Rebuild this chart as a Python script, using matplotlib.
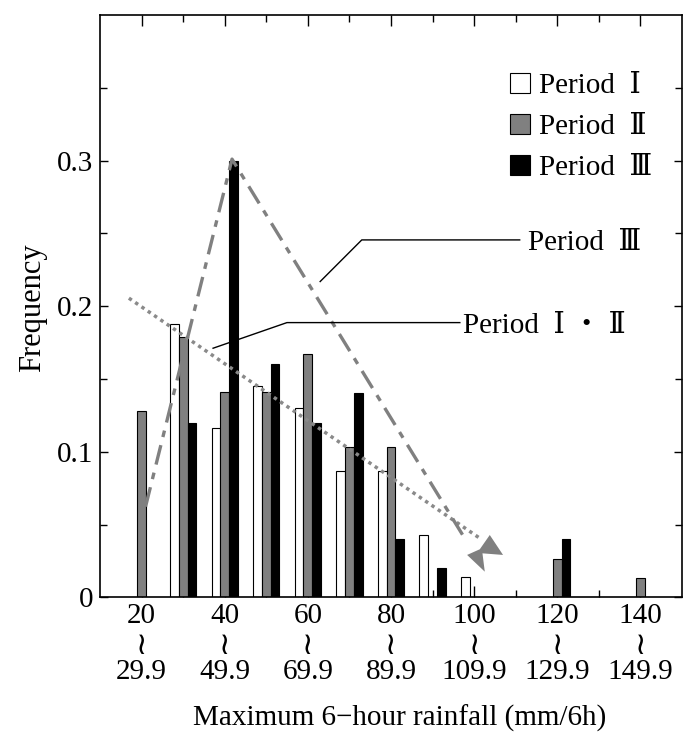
import matplotlib
matplotlib.use("Agg")
import matplotlib.pyplot as plt
import numpy as np
from matplotlib.patches import Patch, Polygon
from matplotlib.transforms import blended_transform_factory
from matplotlib.ticker import FixedLocator

plt.rcParams['font.family'] = ['Liberation Serif', 'DejaVu Serif', 'Noto Sans CJK JP']

# ---- data ----
bin_start = [20, 30, 40, 50, 60, 70, 80, 90, 100, 110, 120, 130, 140]
bin_upper = ["29.9", "49.9", "69.9", "89.9", "109.9", "129.9", "149.9"]
period1 = [0, 0.188, 0.116, 0.145, 0.130, 0.087, 0.087, 0.043, 0.014, 0, 0, 0, 0]
period2 = [0.128, 0.179, 0.141, 0.141, 0.167, 0.103, 0.103, 0, 0, 0, 0.026, 0, 0.013]
period3 = [0, 0.120, 0.300, 0.160, 0.120, 0.140, 0.040, 0.020, 0, 0, 0.040, 0, 0]
labels = ["Period  Ⅰ", "Period  Ⅱ", "Period  Ⅲ"]

# trend annotations
trend12_x = [16.95, 101.4]
trend12_y = [0.2055, 0.0405]
trend3_x = [20.96, 41.76, 97.2]
trend3_y = [0.0623, 0.301, 0.043]
arrow_x = [98.31, 101.36, 103.76, 106.95, 102.0, 102.56]
arrow_y = [0.0291, 0.0330, 0.0428, 0.0291, 0.0302, 0.0176]
lead3_x = [62.96, 72.97, 110.96]
lead3_y = [0.2169, 0.2455, 0.2455]
lead12_x = [37.2, 54.97, 96.56]
lead12_y = [0.1711, 0.1887, 0.1887]

FS = 21

fig = plt.figure(figsize=(6.83, 7.36), dpi=100)
ax = fig.add_axes([100 / 683, 1 - 597.3 / 736, 582 / 683, 582.3 / 736])

x = np.array(bin_start, dtype=float)
w = 2.1
GRAY = '#808080'
for off, vals, fc in [(-w, period1, 'white'), (0, period2, GRAY), (w, period3, 'black')]:
    v = np.array(vals)
    m = v > 0
    ax.bar(x[m] + off, v[m], w, color=fc, edgecolor='black', linewidth=0.8, zorder=2)

# trend lines
ax.plot(trend12_x, trend12_y, color='#8a8a8a', lw=2.5, linestyle=(0, (1, 1.2)), zorder=3)
ax.plot(trend3_x, trend3_y, color='#808080', lw=2.4, linestyle=(0, (6, 2.5, 2, 2.5)), zorder=3)
ax.add_patch(Polygon(np.column_stack([arrow_x, arrow_y]), closed=True,
                     facecolor='#808080', edgecolor='none', zorder=3))

# leader lines
ax.plot(lead3_x, lead3_y, color='black', lw=1.0, zorder=4)
ax.plot(lead12_x, lead12_y, color='black', lw=1.0, zorder=4)
ax.text(112.9, 0.2436, "Period  Ⅲ", fontsize=FS, va='center', ha='left')
ax.text(97.3, 0.1864, "Period  Ⅰ ・ Ⅱ", fontsize=FS, va='center', ha='left')

ax.set_xlim(10, 150)
ax.set_ylim(0, 0.4)
ax.xaxis.set_major_locator(FixedLocator(bin_start[::2]))
ax.xaxis.set_minor_locator(FixedLocator(bin_start[1::2]))
ax.yaxis.set_major_locator(FixedLocator([0, 0.1, 0.2, 0.3]))
ax.yaxis.set_minor_locator(FixedLocator([0.05, 0.15, 0.25, 0.35]))
ax.set_yticklabels(["0", "0.1", "0.2", "0.3"])
ax.set_xticklabels([str(b) for b in bin_start[::2]])
ax.tick_params(which='both', direction='in', top=True, right=True, labelsize=FS, width=1.0)
ax.tick_params(axis='x', which='major', length=8, pad=4)
ax.tick_params(axis='x', which='minor', length=5)
ax.tick_params(axis='y', which='major', length=6, pad=5)
ax.tick_params(axis='y', which='minor', length=5)
for s in ax.spines.values():
    s.set_linewidth(1.2)

trans = blended_transform_factory(ax.transData, ax.transAxes)
for b, up in zip(bin_start[::2], bin_upper):
    ax.text(b, -0.083, "≀", transform=trans, ha='center', va='center', fontsize=22,
            family=['DejaVu Sans', 'Noto Sans CJK JP', 'Noto Sans'])
    ax.text(b, -0.128, up, transform=trans, ha='center', va='center', fontsize=FS)

fig.text(400 / 683, 1 - 718 / 736, "Maximum 6−hour rainfall (mm/6h)", fontsize=FS,
         ha='center', va='center')
fig.text(33 / 683, 1 - 308 / 736, "Frequency", fontsize=22, rotation=90,
         ha='center', va='center')

handles = [Patch(facecolor=c, edgecolor='black', linewidth=0.8, label=l)
           for c, l in zip(['white', GRAY, 'black'], labels)]
ax.legend(handles=handles, loc='upper left', bbox_to_anchor=(410 / 582, (597.3 - 73) / 582.3),
          frameon=False, fontsize=FS, handlelength=0.68, handleheight=0.68,
          handletextpad=0.3, labelspacing=0.5, borderpad=0, borderaxespad=0)

fig.savefig("out.png", dpi=100)
